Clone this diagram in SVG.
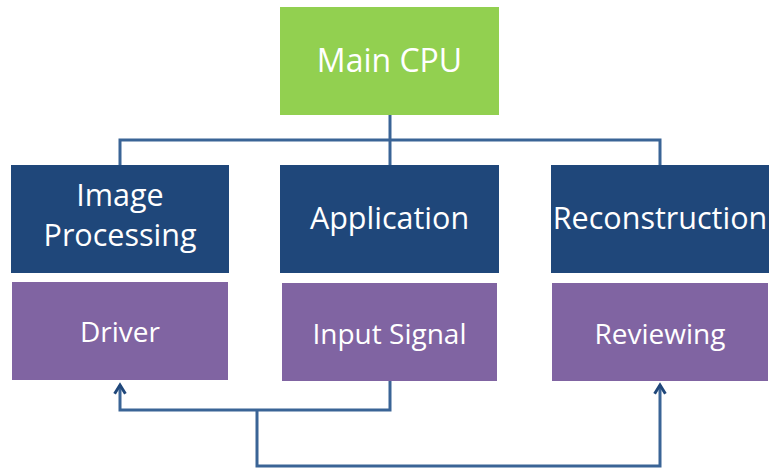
<svg xmlns="http://www.w3.org/2000/svg" width="770" height="472" viewBox="0 0 770 472">
<style>
.cpu{fill:#92D050}
.blue{fill:#1F477A}
.purple{fill:#8064A2}
text{font-family:"Open Sans","Noto Sans","DejaVu Sans",sans-serif;fill:#FFFFFF;text-anchor:middle}
.t1{font-size:32px}
.t2{font-size:30.5px}
.t3{font-size:28px}
.conn{fill:none;stroke:#3A6496;stroke-width:3}
</style>
<defs>
<marker id="arr" viewBox="0 0 10 10" refX="8" refY="5" markerWidth="4.5" markerHeight="4.5" orient="auto" markerUnits="strokeWidth">
<path d="M1.5,1 L8,5 L1.5,9" fill="none" stroke="#1F477A" stroke-width="2.2"/>
</marker>
</defs>
<g id="connectors">
<path class="conn" d="M390,115 V165"/>
<path class="conn" d="M120,165 V140 H660 V165"/>
<path class="conn" d="M390,381 V410 H120 V385" marker-end="url(#arr)"/>
<path class="conn" d="M257,410 V466 H660 V385" marker-end="url(#arr)"/>
</g>
<g id="main-cpu">
<rect class="cpu" x="280" y="7" width="219" height="108"/>
<text class="t1" x="389.5" y="72">Main CPU</text>
</g>
<g id="image-processing">
<rect class="blue" x="11" y="165" width="218" height="108"/>
<text class="t2" x="120" y="206">Image</text>
<text class="t2" x="120" y="246">Processing</text>
</g>
<g id="application">
<rect class="blue" x="280" y="165" width="219" height="108"/>
<text class="t2" x="389.5" y="229">Application</text>
</g>
<g id="reconstruction">
<rect class="blue" x="551" y="165" width="218" height="108"/>
<text class="t2" x="660" y="229">Reconstruction</text>
</g>
<g id="driver">
<rect class="purple" x="12" y="282" width="216" height="98"/>
<text class="t3" x="120" y="342">Driver</text>
</g>
<g id="input-signal">
<rect class="purple" x="282" y="283" width="215" height="98"/>
<text class="t3" x="389.5" y="344">Input Signal</text>
</g>
<g id="reviewing">
<rect class="purple" x="552" y="283" width="216" height="98"/>
<text class="t3" x="660" y="344">Reviewing</text>
</g>
</svg>
